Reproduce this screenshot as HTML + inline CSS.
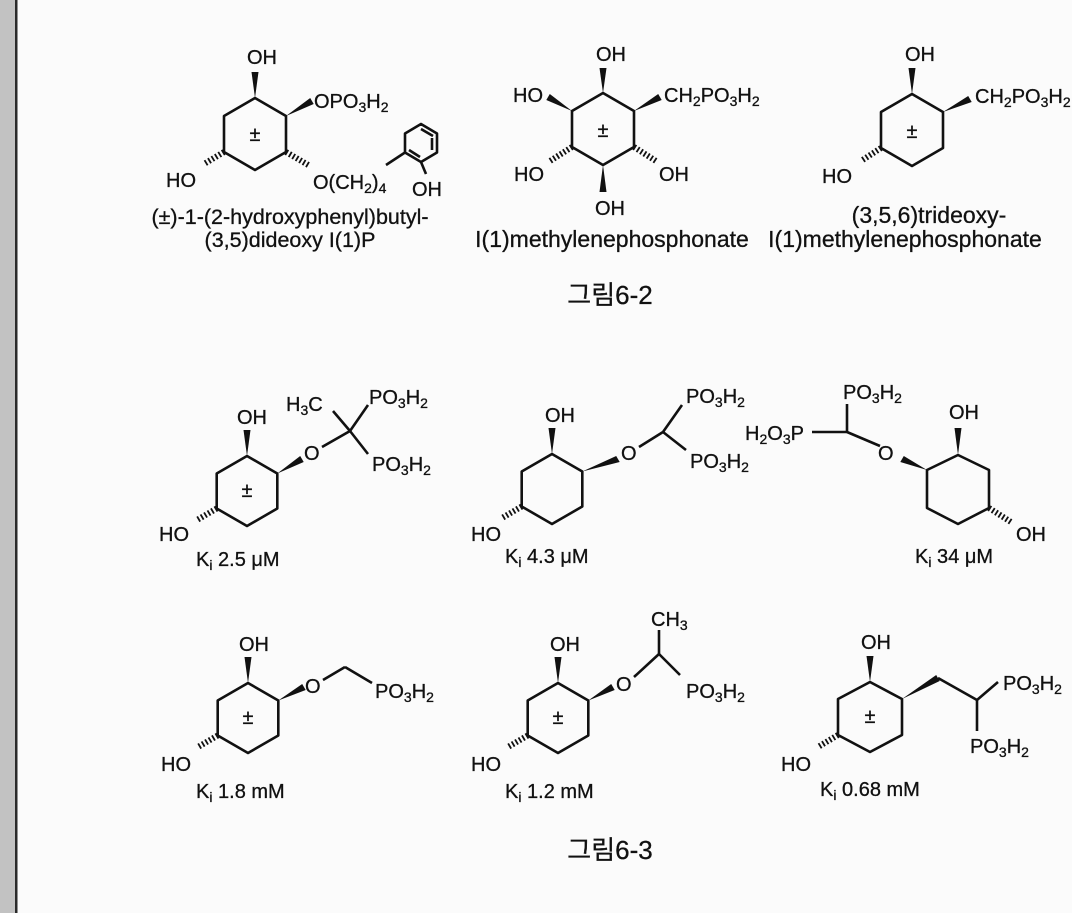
<!DOCTYPE html>
<html><head><meta charset="utf-8"><style>
html,body{margin:0;padding:0;background:#fbfbfb;}
svg{display:block;}
text{font-family:"Liberation Sans","Noto Sans CJK KR",sans-serif;font-size:20px;fill:#111;stroke:#111;stroke-width:0.3;}
.s{font-size:14px;}
.c{font-size:21.5px;}
.c2{font-size:23px;}
.k{font-size:20px;}
.b{stroke:#111;stroke-width:2.6;fill:none;stroke-linejoin:round;}
.h{stroke:#111;stroke-width:6;stroke-dasharray:1.8 2.2;fill:none;}
.w{fill:#111;}
</style></head><body>
<svg width="1072" height="913" viewBox="0 0 1072 913">
<rect x="0" y="0" width="15" height="913" fill="#c2c2c2"/>
<rect x="15" y="0" width="2.5" height="913" fill="#2a2a2a"/>

<!-- S1 -->
<polygon class="b" points="255,98 286,116 286,152 255,170 224,152 224,116"/>
<polygon class="w" points="255,98 251.5,72 258.5,72"/>
<polygon class="w" points="286,116 313.7,104 310.2,98"/>
<line class="h" x1="224" y1="152" x2="204" y2="164"/>
<line class="h" x1="286" y1="152" x2="310" y2="166"/>
<text x="247" y="64">OH</text>
<text x="314" y="108">OPO<tspan class="s" dy="4">3</tspan><tspan dy="-4">H</tspan><tspan class="s" dy="4">2</tspan></text>
<text x="255" y="141" text-anchor="middle">±</text>
<text x="166" y="187">HO</text>
<text x="313" y="189">O(CH<tspan class="s" dy="4">2</tspan><tspan dy="-4">)</tspan><tspan class="s" dy="4">4</tspan></text>
<polygon class="b" points="421,124 437,133.5 437,152.5 421,162 405,152.5 405,133.5"/>
<line class="b" x1="421" y1="129" x2="433" y2="136"/>
<line class="b" x1="432" y1="138" x2="432" y2="150"/>
<line class="b" x1="409" y1="150" x2="420" y2="157"/>
<line class="b" x1="386" y1="165" x2="405" y2="152.5"/>
<line class="b" x1="421" y1="162" x2="426" y2="174"/>
<text x="412" y="196">OH</text>
<text class="c" x="290" y="224" text-anchor="middle">(±)-1-(2-hydroxyphenyl)butyl-</text>
<text class="c" x="290" y="247" text-anchor="middle">(3,5)dideoxy I(1)P</text>

<!-- S2 -->
<polygon class="b" points="603,93 634,111 634,147 603,165 572,147 572,111"/>
<polygon class="w" points="603,93 599.5,68 606.5,68"/>
<polygon class="w" points="634,111 661.7,100 658.2,94"/>
<polygon class="w" points="572,111 546.3,100 549.8,94"/>
<polygon class="w" points="603,165 599.5,192 606.5,192"/>
<line class="h" x1="572" y1="147" x2="550" y2="161"/>
<line class="h" x1="634" y1="147" x2="656" y2="161"/>
<text x="596" y="61">OH</text>
<text x="513" y="102">HO</text>
<text x="664" y="102">CH<tspan class="s" dy="4">2</tspan><tspan dy="-4">PO</tspan><tspan class="s" dy="4">3</tspan><tspan dy="-4">H</tspan><tspan class="s" dy="4">2</tspan></text>
<text x="603" y="137" text-anchor="middle">±</text>
<text x="514" y="181">HO</text>
<text x="659" y="181">OH</text>
<text x="595" y="215">OH</text>
<text class="c2" x="612" y="247" text-anchor="middle">I(1)methylenephosphonate</text>

<!-- S3 -->
<polygon class="b" points="912,94 943,112 943,148 912,166 881,148 881,112"/>
<polygon class="w" points="912,94 908.5,68 915.5,68"/>
<polygon class="w" points="943,112 971.7,102 968.2,96"/>
<line class="h" x1="881" y1="148" x2="861" y2="161"/>
<text x="905" y="61">OH</text>
<text x="975" y="103">CH<tspan class="s" dy="4">2</tspan><tspan dy="-4">PO</tspan><tspan class="s" dy="4">3</tspan><tspan dy="-4">H</tspan><tspan class="s" dy="4">2</tspan></text>
<text x="912" y="138" text-anchor="middle">±</text>
<text x="822" y="183">HO</text>
<text class="c2" x="929" y="223" text-anchor="middle">(3,5,6)trideoxy-</text>
<text class="c2" x="905" y="247" text-anchor="middle">I(1)methylenephosphonate</text>

<text x="610" y="304" text-anchor="middle" style="font-size:26px">그림6-2</text>

<!-- Row2 A -->
<polygon class="b" points="247,456 277.3,473.5 277.3,508.5 247,526 216.7,508.5 216.7,473.5"/>
<polygon class="w" points="247,456 243.5,430 250.5,430"/>
<polygon class="w" points="277.3,473.5 303.7,462 300.2,456"/>
<line class="h" x1="216.7" y1="508.5" x2="197" y2="520"/>
<text x="237" y="424">OH</text>
<text x="304" y="460">O</text>
<line class="b" x1="322" y1="447" x2="350" y2="431"/>
<line class="b" x1="350" y1="431" x2="333" y2="411"/>
<line class="b" x1="350" y1="431" x2="368" y2="405"/>
<line class="b" x1="350" y1="431" x2="368" y2="454"/>
<text x="286" y="411">H<tspan class="s" dy="4">3</tspan><tspan dy="-4">C</tspan></text>
<text x="369" y="404">PO<tspan class="s" dy="4">3</tspan><tspan dy="-4">H</tspan><tspan class="s" dy="4">2</tspan></text>
<text x="372" y="471">PO<tspan class="s" dy="4">3</tspan><tspan dy="-4">H</tspan><tspan class="s" dy="4">2</tspan></text>
<text x="247" y="497" text-anchor="middle">±</text>
<text x="159" y="541">HO</text>
<text class="k" x="196" y="566">K<tspan class="s" dy="4">i</tspan><tspan dy="-4"> 2.5 μM</tspan></text>

<!-- Row2 B -->
<polygon class="b" points="552,454 582.3,471.5 582.3,506.5 552,524 521.7,506.5 521.7,471.5"/>
<polygon class="w" points="552,454 548.5,428 555.5,428"/>
<polygon class="w" points="582.3,471.5 619.7,462 616.2,456"/>
<line class="h" x1="521.7" y1="506.5" x2="502" y2="518"/>
<text x="545" y="422">OH</text>
<text x="621" y="460">O</text>
<line class="b" x1="639" y1="447" x2="663" y2="432"/>
<line class="b" x1="663" y1="432" x2="682" y2="405"/>
<line class="b" x1="663" y1="432" x2="686" y2="450"/>
<text x="686" y="403">PO<tspan class="s" dy="4">3</tspan><tspan dy="-4">H</tspan><tspan class="s" dy="4">2</tspan></text>
<text x="690" y="468">PO<tspan class="s" dy="4">3</tspan><tspan dy="-4">H</tspan><tspan class="s" dy="4">2</tspan></text>
<text x="471" y="541">HO</text>
<text class="k" x="505" y="563">K<tspan class="s" dy="4">i</tspan><tspan dy="-4"> 4.3 μM</tspan></text>

<!-- Row2 C -->
<polygon class="b" points="958,455 989,470 989,508 958,524 927,508 927,470"/>
<polygon class="w" points="958,455 954.5,428 961.5,428"/>
<polygon class="w" points="927,470 900.3,462 903.8,456"/>
<line class="h" x1="989" y1="508" x2="1011" y2="522"/>
<text x="949" y="419">OH</text>
<text x="878" y="460">O</text>
<line class="b" x1="880" y1="446" x2="847" y2="432"/>
<line class="b" x1="847" y1="432" x2="812" y2="432"/>
<line class="b" x1="847" y1="432" x2="847" y2="404"/>
<text x="843" y="399">PO<tspan class="s" dy="4">3</tspan><tspan dy="-4">H</tspan><tspan class="s" dy="4">2</tspan></text>
<text x="745" y="440">H<tspan class="s" dy="4">2</tspan><tspan dy="-4">O</tspan><tspan class="s" dy="4">3</tspan><tspan dy="-4">P</tspan></text>
<text x="1016" y="541">OH</text>
<text class="k" x="915" y="563">K<tspan class="s" dy="4">i</tspan><tspan dy="-4"> 34 μM</tspan></text>

<!-- Row3 D -->
<polygon class="b" points="248,683 278.3,700.5 278.3,735.5 248,753 217.7,735.5 217.7,700.5"/>
<polygon class="w" points="248,683 244.5,657 251.5,657"/>
<polygon class="w" points="278.3,700.5 305.7,690 302.2,684"/>
<line class="h" x1="217.7" y1="735.5" x2="198" y2="747"/>
<text x="239" y="651">OH</text>
<text x="305" y="693">O</text>
<line class="b" x1="323" y1="680" x2="345" y2="667"/>
<line class="b" x1="345" y1="667" x2="372" y2="683"/>
<text x="375" y="698">PO<tspan class="s" dy="4">3</tspan><tspan dy="-4">H</tspan><tspan class="s" dy="4">2</tspan></text>
<text x="248" y="724" text-anchor="middle">±</text>
<text x="161" y="771">HO</text>
<text class="k" x="196" y="798">K<tspan class="s" dy="4">i</tspan><tspan dy="-4"> 1.8 mM</tspan></text>

<!-- Row3 E -->
<polygon class="b" points="558,683 588.3,700.5 588.3,735.5 558,753 527.7,735.5 527.7,700.5"/>
<polygon class="w" points="558,683 554.5,657 561.5,657"/>
<polygon class="w" points="588.3,700.5 614.7,690 611.2,684"/>
<line class="h" x1="527.7" y1="735.5" x2="508" y2="747"/>
<text x="550" y="651">OH</text>
<text x="616" y="691">O</text>
<line class="b" x1="634" y1="677" x2="659" y2="654"/>
<line class="b" x1="659" y1="654" x2="659" y2="630"/>
<line class="b" x1="659" y1="654" x2="680" y2="675"/>
<text x="651" y="626">CH<tspan class="s" dy="4">3</tspan></text>
<text x="686" y="698">PO<tspan class="s" dy="4">3</tspan><tspan dy="-4">H</tspan><tspan class="s" dy="4">2</tspan></text>
<text x="558" y="724" text-anchor="middle">±</text>
<text x="471" y="771">HO</text>
<text class="k" x="505" y="798">K<tspan class="s" dy="4">i</tspan><tspan dy="-4"> 1.2 mM</tspan></text>

<!-- Row3 F -->
<polygon class="b" points="870,682 902,699 902,735 870,752 838,735 838,699"/>
<polygon class="w" points="870,682 866.5,656 873.5,656"/>
<polygon class="w" points="902,699 939.7,681 936.2,675"/>
<line class="b" x1="938" y1="678" x2="977" y2="700"/>
<line class="b" x1="977" y1="700" x2="998" y2="682"/>
<line class="b" x1="977" y1="700" x2="977" y2="731"/>
<line class="h" x1="838" y1="735" x2="818" y2="747"/>
<text x="861" y="649">OH</text>
<text x="1003" y="690">PO<tspan class="s" dy="4">3</tspan><tspan dy="-4">H</tspan><tspan class="s" dy="4">2</tspan></text>
<text x="970" y="753">PO<tspan class="s" dy="4">3</tspan><tspan dy="-4">H</tspan><tspan class="s" dy="4">2</tspan></text>
<text x="870" y="723" text-anchor="middle">±</text>
<text x="781" y="771">HO</text>
<text class="k" x="820" y="796">K<tspan class="s" dy="4">i</tspan><tspan dy="-4"> 0.68 mM</tspan></text>

<text x="610" y="859" text-anchor="middle" style="font-size:26px">그림6-3</text>
</svg>
</body></html>
